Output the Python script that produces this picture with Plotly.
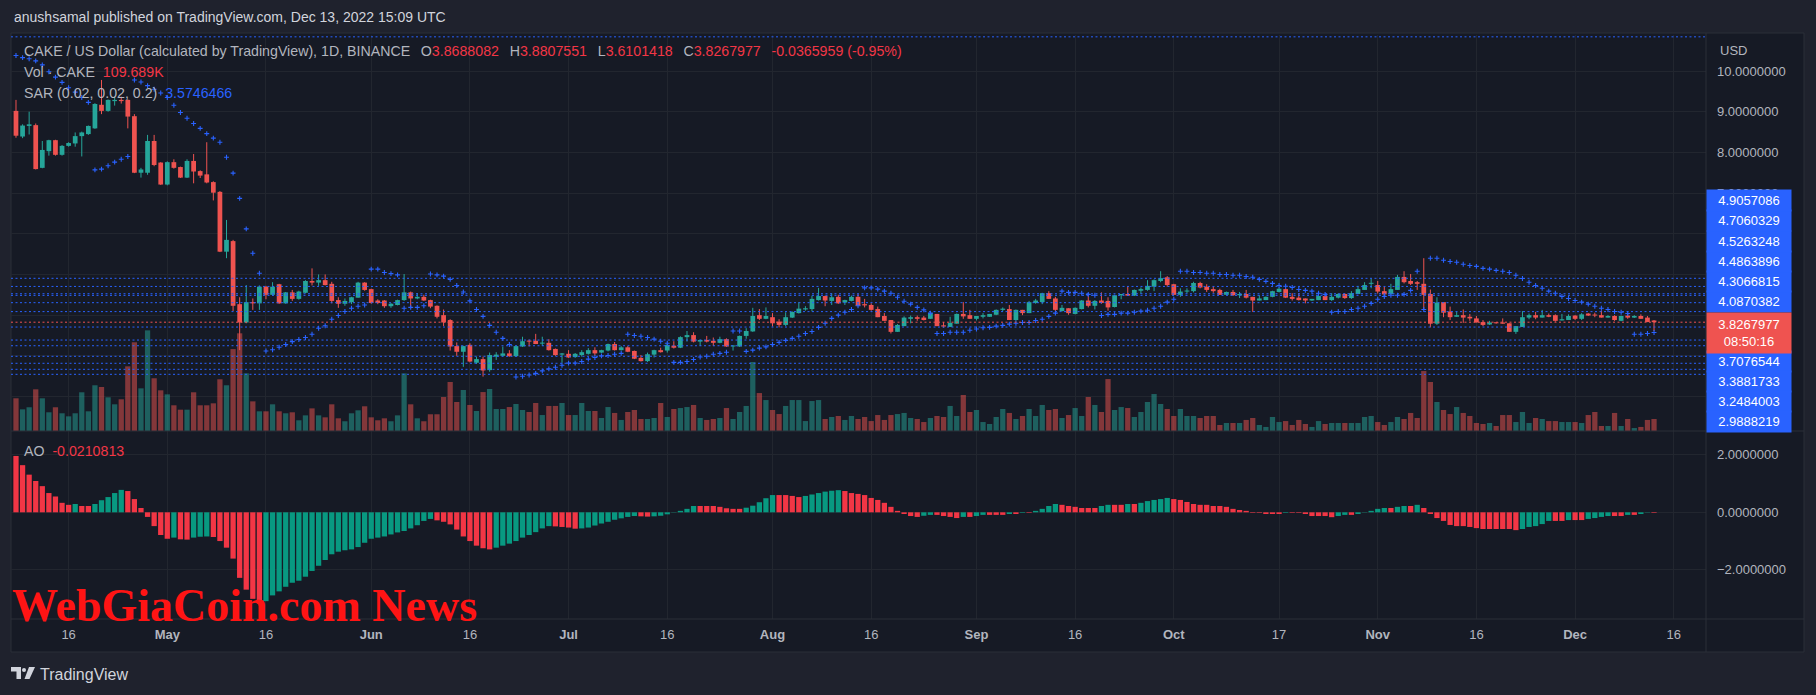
import pandas as pd
import plotly.graph_objects as go

# ---------------- data ----------------
start_date = "2022-04-08"

opens = [
    9.02, 8.39, 8.65, 8.67, 7.62, 8.03, 8.30, 7.94, 8.16, 8.22,
    8.40, 8.45, 8.59, 9.17, 9.02, 9.26, 9.29, 9.29, 8.89, 7.50,
    7.50, 8.28, 7.75, 7.21, 7.76, 7.64, 7.38, 7.79, 7.54, 7.46,
    7.27, 7.03, 5.56, 5.82, 4.27, 3.82, 4.32, 4.29, 4.70, 4.50,
    4.76, 4.29, 4.56, 4.40, 4.55, 4.84, 4.80, 4.86, 4.77, 4.37,
    4.28, 4.32, 4.43, 4.80, 4.64, 4.36, 4.36, 4.22, 4.25, 4.37,
    4.56, 4.41, 4.45, 4.37, 4.23, 4.00, 3.88, 3.24, 3.10, 3.27,
    2.83, 2.92, 2.65, 2.98, 3.00, 3.06, 2.99, 3.23, 3.37, 3.37,
    3.30, 3.32, 3.17, 3.03, 3.05, 2.97, 3.02, 3.05, 3.14, 3.08,
    3.13, 3.29, 3.14, 3.21, 3.12, 2.95, 2.87, 3.03, 3.14, 3.13,
    3.25, 3.20, 3.46, 3.51, 3.35, 3.39, 3.37, 3.32, 3.41, 3.23,
    3.23, 3.49, 3.60, 4.00, 3.91, 3.95, 3.84, 3.76, 3.94, 4.05,
    4.14, 4.15, 4.37, 4.47, 4.35, 4.45, 4.31, 4.35, 4.45, 4.27,
    4.25, 4.15, 3.98, 3.88, 3.59, 3.73, 3.91, 3.95, 3.94, 3.91,
    4.03, 3.75, 3.71, 3.79, 4.03, 4.00, 3.91, 3.96, 3.96, 4.01,
    4.13, 4.15, 3.88, 4.13, 4.05, 4.30, 4.32, 4.54, 4.41, 4.10,
    4.17, 4.03, 4.15, 4.36, 4.23, 4.36, 4.35, 4.20, 4.49, 4.52,
    4.48, 4.60, 4.62, 4.70, 4.84, 4.93, 4.76, 4.50, 4.58, 4.59,
    4.79, 4.70, 4.64, 4.62, 4.50, 4.57, 4.49, 4.52, 4.45, 4.36,
    4.37, 4.45, 4.57, 4.64, 4.45, 4.43, 4.41, 4.36, 4.37, 4.47,
    4.37, 4.43, 4.52, 4.42, 4.52, 4.62, 4.77, 4.74, 4.59, 4.52,
    4.62, 4.94, 4.84, 4.81, 4.77, 4.52, 3.79, 4.32, 4.09, 3.96,
    4.00, 3.96, 3.92, 3.83, 3.77, 3.82, 3.82, 3.80, 3.59, 3.71,
    3.94, 4.00, 3.94, 4.00, 4.00, 3.87, 3.88, 3.99, 3.91, 4.04,
    4.00, 4.00, 3.94, 3.98, 3.86, 3.99, 3.94, 3.98, 3.94, 3.8688082,
]
highs = [
    9.29, 8.69, 9.00, 8.71, 8.28, 8.31, 8.31, 8.18, 8.25, 8.49,
    8.51, 8.66, 9.21, 9.78, 9.30, 9.37, 9.37, 9.30, 8.94, 7.62,
    8.43, 8.43, 7.76, 7.78, 7.83, 7.65, 7.83, 7.96, 7.56, 8.25,
    7.29, 7.05, 6.34, 5.85, 4.44, 4.74, 4.41, 4.73, 4.72, 4.81,
    4.77, 4.57, 4.62, 4.60, 4.86, 5.15, 5.00, 5.00, 4.82, 4.44,
    4.41, 4.45, 4.82, 4.81, 4.65, 4.39, 4.37, 4.30, 4.38, 5.01,
    4.58, 4.54, 4.50, 4.38, 4.24, 4.14, 3.90, 3.33, 3.25, 3.31,
    2.98, 2.98, 3.08, 3.09, 3.23, 3.14, 3.25, 3.47, 3.40, 3.54,
    3.47, 3.41, 3.18, 3.07, 3.14, 3.07, 3.14, 3.19, 3.21, 3.15,
    3.30, 3.34, 3.24, 3.24, 3.13, 3.02, 3.08, 3.15, 3.20, 3.29,
    3.36, 3.48, 3.61, 3.58, 3.40, 3.49, 3.45, 3.47, 3.43, 3.26,
    3.50, 3.68, 4.18, 4.15, 4.19, 4.05, 3.90, 4.07, 4.09, 4.32,
    4.22, 4.48, 4.67, 4.48, 4.54, 4.50, 4.38, 4.48, 4.52, 4.40,
    4.29, 4.21, 4.05, 3.88, 3.78, 3.97, 3.99, 3.99, 3.98, 4.09,
    4.03, 3.83, 3.96, 4.04, 4.32, 4.13, 3.98, 4.05, 4.03, 4.14,
    4.19, 4.25, 4.14, 4.13, 4.35, 4.40, 4.55, 4.59, 4.45, 4.25,
    4.17, 4.19, 4.37, 4.54, 4.37, 4.56, 4.44, 4.50, 4.52, 4.70,
    4.63, 4.68, 4.86, 4.88, 5.08, 4.96, 4.77, 4.66, 4.66, 4.82,
    4.82, 4.76, 4.70, 4.65, 4.58, 4.62, 4.57, 4.62, 4.45, 4.49,
    4.46, 4.60, 4.68, 4.66, 4.54, 4.54, 4.41, 4.40, 4.54, 4.52,
    4.54, 4.54, 4.54, 4.59, 4.72, 4.81, 4.90, 4.84, 4.70, 4.77,
    4.99, 5.08, 5.01, 4.84, 5.40, 4.63, 4.44, 4.32, 4.21, 4.09,
    4.14, 4.03, 3.98, 3.88, 3.86, 3.82, 3.92, 3.80, 3.73, 4.10,
    4.04, 4.08, 4.13, 4.04, 4.02, 4.03, 4.02, 4.00, 4.05, 4.05,
    4.06, 4.11, 4.00, 4.00, 3.99, 4.04, 4.00, 4.02, 3.98, 3.8807551,
]
lows = [
    8.36, 8.35, 8.44, 7.58, 7.61, 7.92, 7.92, 7.92, 8.14, 8.14,
    7.90, 8.43, 8.58, 8.94, 9.00, 9.15, 9.20, 8.59, 7.49, 7.38,
    7.45, 7.66, 7.20, 7.19, 7.60, 7.37, 7.37, 7.24, 7.37, 7.24,
    6.82, 5.55, 5.40, 4.10, 3.14, 3.80, 4.13, 4.13, 4.39, 4.48,
    4.28, 4.28, 4.35, 4.38, 4.54, 4.73, 4.72, 4.73, 4.29, 4.18,
    4.23, 4.27, 4.43, 4.60, 4.28, 4.27, 4.18, 4.18, 4.24, 4.35,
    4.17, 4.39, 4.35, 4.17, 3.92, 3.73, 3.13, 3.00, 2.73, 2.84,
    2.80, 2.49, 2.61, 2.90, 2.98, 2.98, 2.98, 3.22, 3.23, 3.29,
    3.24, 3.13, 3.00, 2.83, 2.95, 2.95, 2.98, 3.03, 3.01, 3.07,
    3.11, 3.13, 3.13, 3.09, 2.92, 2.86, 2.85, 2.96, 3.08, 3.08,
    3.18, 3.19, 3.35, 3.33, 3.24, 3.33, 3.24, 3.31, 3.22, 3.13,
    3.22, 3.42, 3.59, 3.88, 3.90, 3.72, 3.70, 3.73, 3.93, 4.04,
    4.11, 4.09, 4.36, 4.22, 4.25, 4.28, 4.25, 4.34, 4.22, 4.19,
    4.11, 3.95, 3.86, 3.55, 3.59, 3.73, 3.80, 3.86, 3.87, 3.91,
    3.73, 3.69, 3.71, 3.79, 3.91, 3.91, 3.87, 3.92, 3.96, 4.00,
    4.09, 3.88, 3.86, 4.00, 4.05, 4.28, 4.27, 4.40, 4.10, 4.09,
    4.01, 4.02, 4.14, 4.19, 4.14, 4.28, 4.11, 4.19, 4.39, 4.47,
    4.47, 4.52, 4.60, 4.59, 4.81, 4.70, 4.49, 4.45, 4.54, 4.56,
    4.66, 4.57, 4.55, 4.50, 4.50, 4.47, 4.42, 4.41, 4.08, 4.36,
    4.37, 4.44, 4.56, 4.42, 4.36, 4.36, 4.29, 4.35, 4.37, 4.37,
    4.35, 4.41, 4.40, 4.40, 4.52, 4.62, 4.66, 4.53, 4.50, 4.50,
    4.62, 4.78, 4.74, 4.62, 4.13, 3.70, 3.76, 3.95, 3.88, 3.96,
    3.81, 3.86, 3.82, 3.73, 3.76, 3.79, 3.79, 3.59, 3.54, 3.71,
    3.90, 3.90, 3.94, 3.95, 3.84, 3.87, 3.88, 3.88, 3.88, 3.98,
    3.95, 3.94, 3.94, 3.86, 3.85, 3.91, 3.93, 3.91, 3.83, 3.6101418,
]
closes = [
    8.41, 8.66, 8.69, 7.59, 8.06, 8.30, 7.94, 8.16, 8.23, 8.40,
    8.49, 8.65, 9.19, 9.02, 9.29, 9.29, 9.26, 8.88, 7.50, 7.58,
    8.28, 7.69, 7.21, 7.76, 7.62, 7.38, 7.79, 7.53, 7.43, 7.26,
    7.01, 5.56, 5.85, 4.23, 3.82, 4.32, 4.29, 4.70, 4.50, 4.70,
    4.29, 4.56, 4.40, 4.58, 4.84, 4.80, 4.86, 4.74, 4.35, 4.28,
    4.35, 4.44, 4.80, 4.62, 4.30, 4.30, 4.22, 4.28, 4.37, 4.56,
    4.41, 4.45, 4.36, 4.21, 3.96, 3.82, 3.23, 3.10, 3.24, 2.86,
    2.92, 2.64, 3.02, 3.03, 3.06, 2.99, 3.24, 3.36, 3.35, 3.29,
    3.32, 3.14, 3.02, 3.06, 2.96, 3.05, 3.09, 3.14, 3.06, 3.14,
    3.29, 3.14, 3.21, 3.10, 2.93, 2.87, 3.04, 3.14, 3.09, 3.27,
    3.20, 3.46, 3.51, 3.35, 3.39, 3.35, 3.32, 3.41, 3.23, 3.25,
    3.49, 3.61, 3.98, 3.91, 3.98, 3.80, 3.76, 3.95, 4.08, 4.16,
    4.17, 4.40, 4.47, 4.36, 4.44, 4.29, 4.37, 4.45, 4.23, 4.24,
    4.13, 3.95, 3.86, 3.59, 3.76, 3.94, 3.95, 3.91, 3.88, 4.05,
    3.73, 3.72, 3.81, 4.03, 3.97, 3.91, 3.98, 4.00, 4.03, 4.13,
    4.16, 3.88, 4.13, 4.05, 4.32, 4.36, 4.54, 4.40, 4.13, 4.18,
    4.05, 4.18, 4.36, 4.23, 4.35, 4.30, 4.19, 4.49, 4.52, 4.48,
    4.62, 4.64, 4.72, 4.86, 4.91, 4.74, 4.50, 4.58, 4.60, 4.79,
    4.68, 4.62, 4.59, 4.50, 4.57, 4.49, 4.52, 4.43, 4.36, 4.41,
    4.45, 4.59, 4.65, 4.43, 4.40, 4.37, 4.36, 4.40, 4.47, 4.37,
    4.45, 4.52, 4.42, 4.54, 4.64, 4.74, 4.79, 4.58, 4.51, 4.64,
    4.94, 4.81, 4.77, 4.77, 4.50, 3.79, 4.31, 4.06, 3.95, 4.00,
    3.94, 3.92, 3.82, 3.76, 3.82, 3.80, 3.79, 3.59, 3.73, 3.95,
    4.00, 3.94, 4.00, 3.96, 3.86, 3.90, 3.98, 3.91, 4.02, 3.99,
    3.99, 3.94, 3.98, 3.88, 3.98, 3.94, 3.98, 3.91, 3.83, 3.8267977,
]
volumes_k = [
    299, 198, 217, 381, 299, 171, 217, 162, 134, 162,
    354, 180, 418, 402, 308, 244, 290, 591, 811, 390,
    920, 482, 372, 335, 235, 195, 195, 354, 235, 235,
    253, 473, 418, 749, 893, 527, 271, 180, 180, 244,
    180, 162, 171, 98, 143, 207, 143, 125, 244, 116,
    89, 162, 189, 226, 125, 98, 116, 89, 143, 527,
    244, 116, 89, 153, 153, 311, 448, 265, 375, 238,
    183, 356, 384, 201, 201, 219, 247, 192, 174, 256,
    146, 229, 229, 256, 146, 146, 256, 183, 183, 119,
    219, 165, 101, 174, 192, 110, 110, 119, 256, 128,
    201, 210, 219, 238, 119, 101, 110, 119, 210, 110,
    174, 229, 631, 347, 283, 192, 155, 229, 283, 283,
    91, 274, 283, 110, 128, 137, 101, 137, 110, 128,
    91, 146, 101, 146, 155, 165, 119, 110, 82, 119,
    137, 128, 229, 137, 329, 174, 192, 82, 64, 128,
    201, 165, 110, 137, 201, 137, 238, 192, 201, 119,
    146, 210, 137, 311, 238, 174, 475, 192, 219, 210,
    128, 174, 265, 338, 247, 201, 137, 201, 137, 137,
    119, 137, 137, 55, 73, 73, 73, 101, 119, 55,
    37, 128, 82, 91, 55, 101, 64, 37, 91, 64,
    73, 73, 73, 73, 73, 128, 137, 82, 55, 82,
    128, 110, 165, 119, 548, 448, 265, 192, 155, 219,
    165, 137, 73, 64, 73, 46, 146, 146, 82, 174,
    73, 119, 110, 91, 91, 82, 82, 82, 73, 146,
    174, 46, 46, 165, 46, 110, 27, 37, 101, 109.689,
]
sar = [
    10.38, 10.33, 10.30, 10.25, 10.15, 9.98, 9.85, 9.72, 9.59, 9.48,
    9.35, 9.23, 7.57, 7.59, 7.67, 7.76, 7.83, 7.90, 9.78, 9.73,
    9.64, 9.55, 9.46, 9.35, 9.16, 8.98, 8.84, 8.71, 8.59, 8.46,
    8.35, 8.25, 7.88, 7.49, 6.87, 6.12, 5.52, 5.03, 3.12, 3.15,
    3.21, 3.28, 3.35, 3.40, 3.45, 3.53, 3.68, 3.74, 3.90, 3.99,
    4.09, 4.17, 4.22, 4.25, 5.13, 5.13, 5.05, 5.02, 4.99, 4.17,
    4.19, 4.19, 4.23, 5.01, 4.99, 4.96, 4.88, 4.73, 4.57, 4.35,
    4.14, 3.97, 3.75, 3.58, 3.43, 3.28, 2.48, 2.50, 2.53, 2.57,
    2.63, 2.68, 2.72, 2.77, 2.82, 2.82, 2.86, 2.92, 2.96, 3.00,
    3.01, 3.04, 3.06, 3.53, 3.50, 3.48, 3.45, 3.41, 3.36, 3.31,
    2.84, 2.84, 2.86, 2.91, 2.97, 2.99, 3.04, 3.06, 3.09, 3.61,
    3.61, 3.11, 3.14, 3.19, 3.22, 3.28, 3.33, 3.38, 3.43, 3.48,
    3.55, 3.60, 3.70, 3.80, 3.92, 4.00, 4.07, 4.14, 4.23, 4.67,
    4.67, 4.64, 4.59, 4.54, 4.44, 4.34, 4.27, 4.19, 4.13, 4.05,
    3.55, 3.55, 3.58, 3.58, 3.58, 3.63, 3.66, 3.69, 3.70, 3.73,
    3.75, 3.78, 3.80, 3.82, 3.82, 3.87, 3.90, 3.97, 4.05, 4.59,
    4.56, 4.56, 4.54, 4.51, 4.49, 3.99, 4.02, 4.02, 4.05, 4.05,
    4.07, 4.10, 4.12, 4.17, 4.22, 4.32, 4.39, 5.08, 5.08, 5.05,
    5.05, 5.03, 5.03, 5.00, 5.00, 4.98, 4.98, 4.95, 4.93, 4.88,
    4.83, 4.78, 4.73, 4.71, 4.68, 4.63, 4.61, 4.59, 4.54, 4.51,
    4.07, 4.09, 4.09, 4.14, 4.17, 4.22, 4.29, 4.39, 4.46, 4.49,
    4.49, 4.51, 4.61, 5.08, 4.14, 5.40, 5.40, 5.35, 5.32, 5.30,
    5.25, 5.22, 5.20, 5.15, 5.13, 5.10, 5.08, 5.05, 4.98, 4.90,
    4.81, 4.73, 4.66, 4.59, 4.54, 4.46, 4.41, 4.36, 4.32, 4.27,
    4.22, 4.17, 4.14, 4.09, 4.07, 4.04, 3.53, 3.53, 3.55, 3.5746466,
]
ao = [
    1.96, 1.64, 1.31, 1.09, 0.91, 0.67, 0.55, 0.33, 0.26, 0.29,
    0.22, 0.22, 0.29, 0.42, 0.53, 0.67, 0.78, 0.74, 0.46, 0.15,
    -0.16, -0.48, -0.79, -0.92, -0.88, -0.94, -0.95, -0.88, -0.85, -0.84,
    -0.86, -1.00, -1.23, -1.61, -2.28, -2.69, -3.01, -3.18, -3.09, -2.89,
    -2.75, -2.59, -2.45, -2.38, -2.24, -2.04, -1.86, -1.66, -1.46, -1.37,
    -1.32, -1.29, -1.21, -1.06, -0.92, -0.88, -0.84, -0.77, -0.70, -0.65,
    -0.56, -0.45, -0.30, -0.23, -0.28, -0.33, -0.42, -0.60, -0.84, -1.00,
    -1.16, -1.25, -1.29, -1.23, -1.16, -1.09, -1.00, -0.88, -0.79, -0.69,
    -0.56, -0.48, -0.49, -0.51, -0.53, -0.57, -0.56, -0.53, -0.46, -0.39,
    -0.33, -0.26, -0.21, -0.16, -0.13, -0.14, -0.15, -0.14, -0.12, -0.07,
    -0.01, 0.05, 0.12, 0.22, 0.22, 0.22, 0.22, 0.19, 0.14, 0.12,
    0.12, 0.16, 0.23, 0.35, 0.49, 0.60, 0.60, 0.60, 0.57, 0.53,
    0.57, 0.62, 0.67, 0.72, 0.75, 0.77, 0.74, 0.67, 0.64, 0.60,
    0.50, 0.43, 0.33, 0.19, 0.05, -0.06, -0.13, -0.16, -0.12, -0.09,
    -0.09, -0.13, -0.16, -0.20, -0.16, -0.16, -0.13, -0.09, -0.09, -0.09,
    -0.09, -0.06, -0.06, -0.02, -0.02, 0.05, 0.12, 0.22, 0.29, 0.26,
    0.22, 0.19, 0.15, 0.15, 0.15, 0.22, 0.26, 0.26, 0.26, 0.29,
    0.29, 0.33, 0.39, 0.43, 0.46, 0.50, 0.46, 0.43, 0.36, 0.29,
    0.26, 0.26, 0.22, 0.22, 0.19, 0.12, 0.08, 0.05, -0.02, -0.02,
    -0.06, -0.06, -0.06, -0.02, -0.02, -0.02, -0.06, -0.13, -0.13, -0.13,
    -0.17, -0.13, -0.09, -0.09, -0.06, 0.01, 0.05, 0.12, 0.15, 0.15,
    0.19, 0.22, 0.22, 0.26, 0.15, -0.06, -0.20, -0.30, -0.44, -0.48,
    -0.48, -0.51, -0.55, -0.58, -0.58, -0.58, -0.58, -0.58, -0.62, -0.58,
    -0.51, -0.48, -0.41, -0.30, -0.30, -0.30, -0.27, -0.27, -0.27, -0.23,
    -0.20, -0.16, -0.13, -0.13, -0.13, -0.09, -0.09, -0.06, -0.01, -0.0210813,
]

levels_above = ["4.9057086", "4.7060329", "4.5263248", "4.4863896", "4.3066815", "4.0870382"]
levels_below = ["3.7076544", "3.3881733", "3.2484003", "2.9888219"]
levels_extra = [10.84, 2.817, 2.669, 2.546]
countdown = "08:50:16"
change_text = "-0.0365959 (-0.95%)"

tick_dates = ["2022-04-16", "2022-05-01", "2022-05-16", "2022-06-01", "2022-06-16",
              "2022-07-01", "2022-07-16", "2022-08-01", "2022-08-16", "2022-09-01",
              "2022-09-16", "2022-10-01", "2022-10-17", "2022-11-01", "2022-11-16",
              "2022-12-01", "2022-12-16"]
tick_labels = ["16", "May", "16", "Jun", "16", "Jul", "16", "Aug", "16", "Sep",
               "16", "Oct", "17", "Nov", "16", "Dec", "16"]
price_ticks = [2, 3, 4, 5, 6, 7, 8, 9, 10]
price_ticks_shown = [7, 8, 9, 10]   # the rest sit behind the price-label column
ao_ticks = [-2, 0, 2]

# ---------------- styling / layout helpers ----------------
FONT = "Liberation Sans, Arial, sans-serif"
BG = "#161a25"
OUTER = "#1f222d"
GRID = "#22262f"
BORDER = "#2a2e39"
TXT = "#b2b5be"
UPC = "#26a69a"
DNC = "#ef5350"
VUP = "rgba(38,166,154,0.5)"
VDN = "rgba(239,83,80,0.5)"
AO_UP = "#089981"
AO_DN = "#f23645"
BLUE = "#2962ff"

W, H = 1816, 695
PL, PR, PT, PB = 11, 1706, 35, 619
SPLIT = 431


def px(x):
    return (x - PL) / (PR - PL)


def py(y):
    return (PB - y) / (PB - PT)


DAY_MS = 86400000
n = len(closes)
dates = pd.date_range(start_date, periods=n, freq="D")
up = [c >= o for o, c in zip(opens, closes)]

fig = go.Figure()

# volume (overlay on price pane)
fig.add_trace(go.Bar(
    x=dates[:len(volumes_k)], y=volumes_k, width=0.8 * DAY_MS,
    marker=dict(color=[VUP if u else VDN for u in up], line=dict(width=0)),
    xaxis="x", yaxis="y3", hoverinfo="skip", showlegend=False))

# wicks
for flag, col in ((True, UPC), (False, DNC)):
    xs, ys = [], []
    for d, hi, lo, u in zip(dates, highs, lows, up):
        if u == flag:
            xs += [d, d, None]
            ys += [lo, hi, None]
    fig.add_trace(go.Scatter(x=xs, y=ys, mode="lines", line=dict(color=col, width=1),
                             xaxis="x", yaxis="y", hoverinfo="skip", showlegend=False))

# bodies
body_base = [min(o, c) for o, c in zip(opens, closes)]
body_len = [max(abs(c - o), 0.025) for o, c in zip(opens, closes)]
fig.add_trace(go.Bar(
    x=dates, y=body_len, base=body_base, width=0.72 * DAY_MS,
    marker=dict(color=[UPC if u else DNC for u in up], line=dict(width=0)),
    xaxis="x", yaxis="y", hoverinfo="skip", showlegend=False))

# parabolic SAR
fig.add_trace(go.Scatter(
    x=dates[:len(sar)], y=sar, mode="markers",
    marker=dict(symbol="cross-thin", size=3.5, line=dict(width=1.1, color=BLUE)),
    xaxis="x", yaxis="y", hoverinfo="skip", showlegend=False))

# awesome oscillator
ao_cols = [AO_DN] + [AO_UP if ao[i] > ao[i - 1] else AO_DN for i in range(1, len(ao))]
fig.add_trace(go.Bar(
    x=dates[:len(ao)], y=ao, width=0.8 * DAY_MS,
    marker=dict(color=ao_cols, line=dict(width=0)),
    xaxis="x", yaxis="y2", hoverinfo="skip", showlegend=False))

shapes = []
# chart frame
shapes.append(dict(type="rect", xref="paper", yref="paper", x0=px(11), x1=px(1804),
                   y0=py(652), y1=py(33), fillcolor=BG, line=dict(color=BORDER, width=1),
                   layer="below"))
# separators
shapes.append(dict(type="line", xref="paper", yref="paper", x0=px(11), x1=px(1804),
                   y0=py(SPLIT), y1=py(SPLIT), line=dict(color=BORDER, width=1)))
shapes.append(dict(type="line", xref="paper", yref="paper", x0=px(11), x1=px(1804),
                   y0=0, y1=0, line=dict(color=BORDER, width=1)))
shapes.append(dict(type="line", xref="paper", yref="paper", x0=1, x1=1,
                   y0=py(652), y1=py(33), line=dict(color=BORDER, width=1)))

# horizontal level lines
all_levels = [float(v) for v in levels_above + levels_below] + levels_extra
for lv in all_levels:
    shapes.append(dict(type="line", xref="paper", yref="y", x0=0, x1=1, y0=lv, y1=lv,
                       line=dict(color=BLUE, width=1, dash="2px,2.5px"), layer="above"))
shapes.append(dict(type="line", xref="paper", yref="y", x0=0, x1=1, y0=closes[-1], y1=closes[-1],
                   line=dict(color=DNC, width=1, dash="2px,2.5px"), layer="above"))


# TradingView logo glyph
def ppath(points):
    return "M " + " L ".join(f"{px(a):.5f},{py(b):.5f}" for a, b in points) + " Z"


shapes.append(dict(type="path", xref="paper", yref="paper",
                   path=ppath([(11, 667), (21, 667), (21, 679), (16.5, 679), (16.5, 671.5), (11, 671.5)]),
                   fillcolor="#d1d4dc", line=dict(width=0)))
shapes.append(dict(type="circle", xref="paper", yref="paper",
                   x0=px(22), x1=px(26), y0=py(672), y1=py(668), fillcolor="#d1d4dc", line=dict(width=0)))
shapes.append(dict(type="path", xref="paper", yref="paper",
                   path=ppath([(29, 667), (35, 667), (29.5, 679), (24.5, 679)]),
                   fillcolor="#d1d4dc", line=dict(width=0)))

annotations = []


def ann(x, y, text, size=13, color=TXT, xanchor="left", yanchor="middle", family=FONT, **kw):
    d = dict(xref="paper", yref="paper", x=px(x), y=py(y), text=text, showarrow=False,
             xanchor=xanchor, yanchor=yanchor, font=dict(family=family, size=size, color=color))
    d.update(kw)
    annotations.append(d)


RED_T = "#f23645"
ann(12, 17, "anushsamal published on TradingView.com, Dec 13, 2022 15:09 UTC", size=14, color="#d1d4dc")
sp = "\u00a0\u00a0\u2009"
legend_price = (
    "CAKE / US Dollar (calculated by TradingView), 1D, BINANCE" + sp +
    f"O<span style='color:{RED_T}'>{opens[-1]:.7f}</span>" + sp +
    f"H<span style='color:{RED_T}'>{highs[-1]:.7f}</span>" + sp +
    f"L<span style='color:{RED_T}'>{lows[-1]:.7f}</span>" + sp +
    f"C<span style='color:{RED_T}'>{closes[-1]:.7f}</span>" + sp +
    f"<span style='color:{RED_T}'>{change_text}</span>")
ann(22, 51, legend_price, size=14.2)
ann(22, 72, f"Vol · CAKE\u00a0\u00a0<span style='color:{RED_T}'>{volumes_k[-1]:.3f}K</span>", size=14.2)
ann(22, 93, f"SAR (0.02, 0.02, 0.2)\u00a0\u00a0<span style='color:{BLUE}'>{sar[-1]:.7f}</span>", size=14.2)
ann(22, 451, f"AO\u00a0\u00a0<span style='color:{RED_T}'>{ao[-1]:.7f}</span>", size=14.2)
ann(1718, 50, "USD", size=13)

# price axis labels stacked around the last price
STEP = 20.17
for k, lab in enumerate(reversed(levels_above)):
    annotations.append(dict(xref="paper", yref="y", x=1, y=closes[-1], xanchor="left", yanchor="middle",
                            yshift=10.5 + STEP * (k + 0.5), text=lab, showarrow=False,
                            width=84, height=21, bgcolor=BLUE, borderpad=0,
                            font=dict(family=FONT, size=13, color="#ffffff")))
for k, lab in enumerate(levels_below):
    annotations.append(dict(xref="paper", yref="y", x=1, y=closes[-1], xanchor="left", yanchor="middle",
                            yshift=-(28.8 + STEP * (k + 0.5)), text=lab, showarrow=False,
                            width=84, height=21, bgcolor=BLUE, borderpad=0,
                            font=dict(family=FONT, size=13, color="#ffffff")))
annotations.append(dict(xref="paper", yref="y", x=1, y=closes[-1], xanchor="left", yanchor="top",
                        yshift=10.5, text=f"{closes[-1]:.7f}<br>{countdown}", showarrow=False,
                        width=84, height=39.5, bgcolor=DNC, borderpad=0,
                        font=dict(family=FONT, size=13, color="#ffffff")))

# watermark
ann(10, 605, "<b>WebGiaCoin.com News</b>", size=46, color="#ff1414",
    family="Liberation Serif, Times New Roman, serif")
# TradingView word mark
ann(38, 674, "TradingView", size=16, color="#d1d4dc")

x_start = pd.Timestamp(start_date) - pd.Timedelta(hours=18.2)
x_end = pd.Timestamp(start_date) + pd.Timedelta(days=256.9)
month_names = {"May", "Jun", "Jul", "Aug", "Sep", "Oct", "Nov", "Dec"}

fig.update_layout(
    width=W, height=H, autosize=False,
    margin=dict(l=PL, r=W - PR, t=PT, b=H - PB, pad=0),
    paper_bgcolor=OUTER, plot_bgcolor=BG,
    barmode="overlay", showlegend=False,
    font=dict(family=FONT, color=TXT),
    xaxis=dict(type="date", range=[x_start, x_end], anchor="y2", domain=[0, 1],
               tickvals=tick_dates,
               ticktext=[f"<b>{t}</b>" if t in month_names else t for t in tick_labels],
               showgrid=True, gridcolor=GRID, gridwidth=1, zeroline=False, showline=False,
               ticks="", tickfont=dict(family=FONT, size=13, color=TXT), ticklabelstandoff=6,
               fixedrange=True),
    yaxis=dict(domain=[py(SPLIT), 1], range=[1.153, 10.885], side="right", anchor="x",
               tickvals=price_ticks,
               ticktext=[f"{v:.7f}" if v in price_ticks_shown else "" for v in price_ticks],
               showgrid=True, gridcolor=GRID, zeroline=False, showline=False, ticks="",
               tickfont=dict(family=FONT, size=13, color=TXT), ticklabelstandoff=10,
               fixedrange=True),
    yaxis2=dict(domain=[0, py(SPLIT)], range=[-3.711, 2.828], side="right", anchor="x",
                tickvals=ao_ticks,
                ticktext=[f"{v:.7f}".replace("-", "\u2212") for v in ao_ticks],
                showgrid=True, gridcolor=GRID, zeroline=False, showline=False, ticks="",
                tickfont=dict(family=FONT, size=13, color=TXT), ticklabelstandoff=10,
                fixedrange=True),
    yaxis3=dict(overlaying="y", range=[0, 3620], visible=False, fixedrange=True),
    shapes=shapes,
    annotations=annotations,
)

fig.write_html("out.html", include_plotlyjs=True, full_html=True,
               config={"displayModeBar": False, "staticPlot": True},
               post_script="document.body.style.margin='0';document.body.style.overflow='hidden';")
